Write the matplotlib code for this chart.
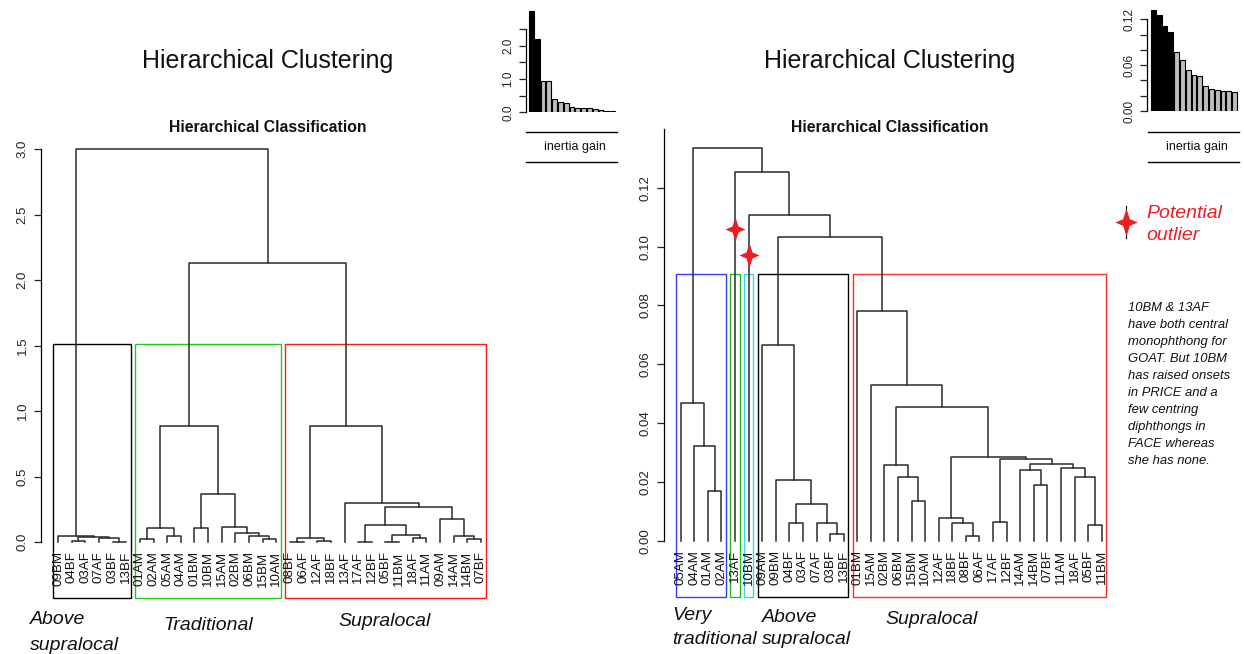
import matplotlib
matplotlib.use("Agg")
import matplotlib.pyplot as plt
from matplotlib.path import Path
from matplotlib.patches import Rectangle

plt.rcParams['font.family'] = ['Liberation Sans', 'DejaVu Sans']

W, H = 1244, 654
LINE = '#2b2b2b'

# ---------------- data: left tree (3 clusters) ----------------
labels_left = ["09BM", "04BF", "03AF", "07AF", "03BF", "13BF",
               "01AM", "02AM", "05AM", "04AM", "01BM", "10BM", "15AM", "02BM", "06BM", "15BM", "10AM",
               "08BF", "06AF", "12AF", "18BF", "13AF", "17AF", "12BF", "05BF", "11BM", "18AF", "11AM",
               "09AM", "14AM", "14BM", "07BF"]
# (left, right, height): a str is a leaf, an int is an earlier merge
merges_left = [("04BF", "03AF", 0.010), ("03BF", "13BF", 0.005), ("07AF", 1, 0.030), (0, 2, 0.040),
               ("09BM", 3, 0.050),
               ("01AM", "02AM", 0.023), ("05AM", "04AM", 0.048), (5, 6, 0.110), ("01BM", "10BM", 0.110),
               ("15BM", "10AM", 0.023), ("06BM", 9, 0.048), ("02BM", 10, 0.073), ("15AM", 11, 0.120),
               (8, 12, 0.370), (7, 13, 0.890),
               ("08BF", "06AF", 0.005), ("12AF", "18BF", 0.010), (15, 16, 0.030), ("17AF", "12BF", 0.005),
               ("05BF", "11BM", 0.005), ("18AF", "11AM", 0.030), (19, 20, 0.056), (18, 21, 0.130),
               ("14BM", "07BF", 0.023), ("14AM", 23, 0.048), ("09AM", 24, 0.180), (22, 25, 0.270),
               ("13AF", 26, 0.300), (17, 27, 0.890),
               (14, 28, 2.130), (4, 29, 3.000)]
cut_left = 1.51
sizes_left = [6, 11, 15]
colors_left = ['black', '#1ccc1c', '#ff1a1a']
gain_left = [3.05, 2.19, 0.93, 0.93, 0.39, 0.31, 0.27, 0.17, 0.14, 0.13, 0.13, 0.11, 0.08, 0.05, 0.05]

# ---------------- data: right tree (5 clusters) ----------------
labels_right = ["05AM", "04AM", "01AM", "02AM", "13AF", "10BM",
                "09AM", "09BM", "04BF", "03AF", "07AF", "03BF", "13BF",
                "01BM", "15AM", "02BM", "06BM", "15BM", "10AM", "12AF", "18BF", "08BF", "06AF",
                "17AF", "12BF", "14AM", "14BM", "07BF", "11AM", "18AF", "05BF", "11BM"]
merges_right = [("01AM", "02AM", 0.0171), ("04AM", 0, 0.0323), ("05AM", 1, 0.0469),
                ("04BF", "03AF", 0.0061), ("03BF", "13BF", 0.0025), ("07AF", 4, 0.0061), (3, 5, 0.0127),
                ("09BM", 6, 0.0208), ("09AM", 7, 0.0664),
                ("15BM", "10AM", 0.0136), ("06BM", 9, 0.0216), ("02BM", 10, 0.0258),
                ("08BF", "06AF", 0.0016), ("18BF", 12, 0.0061), ("12AF", 13, 0.0079),
                ("17AF", "12BF", 0.0066), ("14BM", "07BF", 0.0190), ("14AM", 16, 0.0240),
                ("05BF", "11BM", 0.0053), ("18AF", 18, 0.0216), ("11AM", 19, 0.0249), (17, 20, 0.0262),
                (15, 21, 0.0279), (14, 22, 0.0286), (11, 23, 0.0456), ("15AM", 24, 0.0530),
                ("01BM", 25, 0.0782), (8, 26, 0.1034), ("10BM", 27, 0.1107), ("13AF", 28, 0.1253),
                (2, 29, 0.1336)]
cut_right = 0.0907
sizes_right = [4, 1, 1, 7, 19]
colors_right = ['#3a3aff', '#22bb22', '#33dddd', 'black', '#ff2a2a']
gain_right = [0.1323, 0.1258, 0.1110, 0.1030, 0.0778, 0.0664, 0.0530, 0.0469, 0.0456,
              0.0328, 0.0284, 0.0279, 0.0266, 0.0262, 0.0245]
outliers = ["13AF", "10BM"]
outlier_heights = [0.106, 0.0971]

note_lines = ["10BM & 13AF", "have both central", "monophthong for", "GOAT. But 10BM",
              "has raised onsets", "in PRICE and a", "few centring", "diphthongs in",
              "FACE whereas", "she has none."]

fig = plt.figure(figsize=(W / 100, H / 100), dpi=100)


def px_axes(x0, y0, x1, y1):
    return fig.add_axes([x0 / W, 1 - y1 / H, (x1 - x0) / W, (y1 - y0) / H])


def r_axis(ax, lo, hi, ticks, labels, size, pad=4):
    for s in ['top', 'right', 'bottom']:
        ax.spines[s].set_visible(False)
    ax.spines['left'].set_bounds(lo, hi)
    ax.spines['left'].set_linewidth(0.9)
    ax.set_xticks([])
    ax.set_yticks(ticks)
    ax.set_yticklabels(labels)
    ax.tick_params(axis='y', length=5, width=0.9, pad=pad, labelsize=size, colors='#222222')
    for t in ax.get_yticklabels():
        t.set_rotation(90)
        t.set_va('center')
    ax.patch.set_alpha(0)


def draw_tree(ax, labels, merges):
    pos = {lab: (i, 0.0) for i, lab in enumerate(labels)}
    nodes = []
    for a, b, h in merges:
        xa, ha = pos[a] if isinstance(a, str) else nodes[a]
        xb, hb = pos[b] if isinstance(b, str) else nodes[b]
        ax.plot([xa, xa, xb, xb], [ha, h, h, hb], color=LINE, lw=1.1, clip_on=False)
        nodes.append(((xa + xb) / 2, h))
    for i, lab in enumerate(labels):
        ax.annotate(lab, (i, 0), xytext=(0, -6.5), textcoords='offset points', rotation=90,
                    ha='center', va='top', fontsize=9.6, color='#111111')


def draw_boxes(ax, sizes, colors, top, bottom):
    start = 0
    for n, c in zip(sizes, colors):
        ax.add_patch(Rectangle((start - 0.34, bottom), n - 0.32, top - bottom, fill=False,
                               edgecolor=c, lw=1.0, clip_on=False))
        start += n


def draw_gain(ax, gains, n_black):
    xs = [0.7 + 1.2 * i for i in range(len(gains))]
    cols = ['black'] * n_black + ['#bebebe'] * (len(gains) - n_black)
    ax.bar(xs, gains, width=1.0, color=cols, edgecolor='black', lw=0.8)


# left dendrogram
axL = px_axes(41, 149, 490, 542.3)
axL.set_xlim(-1.246, 31.66)
axL.set_ylim(0, 3.0)
r_axis(axL, 0, 3.0, [0, 0.5, 1, 1.5, 2, 2.5, 3], ["0.0", "0.5", "1.0", "1.5", "2.0", "2.5", "3.0"], 9.5)
draw_tree(axL, labels_left, merges_left)
draw_boxes(axL, sizes_left, colors_left, cut_left, -0.425)

# right dendrogram
axR = px_axes(664, 128.8, 1110, 541)
axR.set_xlim(-1.23, 31.61)
axR.set_ylim(0, 0.14)
r_axis(axR, 0, 0.14, [0, 0.02, 0.04, 0.06, 0.08, 0.10, 0.12],
       ["0.00", "0.02", "0.04", "0.06", "0.08", "0.10", "0.12"], 9.5)
draw_tree(axR, labels_right, merges_right)
draw_boxes(axR, sizes_right, colors_right, cut_right, -0.0191)

star = Path([(0, 1), (0.24, 0.24), (0.8, 0), (0.24, -0.24), (0, -1), (-0.24, -0.24),
             (-0.8, 0), (-0.24, 0.24), (0, 1)],
            [Path.MOVETO] + [Path.LINETO] * 7 + [Path.CLOSEPOLY])
for lab, h in zip(outliers, outlier_heights):
    axR.plot(labels_right.index(lab), h, marker=star, markersize=18, color='#ee1c25',
             markeredgewidth=0, clip_on=False, zorder=5)

# inertia gain insets
axG1 = px_axes(526, 5.6, 617, 112.3)
axG1.set_xlim(-0.42, 18.41)
axG1.set_ylim(0, 3.2)
r_axis(axG1, 0, 2.5, [0, 0.5, 1, 1.5, 2, 2.5], ["0.0", "", "1.0", "", "2.0", ""], 8.5, pad=3.5)
draw_gain(axG1, gain_left, 2)

axG2 = px_axes(1146.7, 4, 1239, 111)
axG2.set_xlim(-0.69, 18.41)
axG2.set_ylim(0, 0.14)
r_axis(axG2, 0, 0.12, [0, 0.02, 0.04, 0.06, 0.08, 0.10, 0.12],
       ["0.00", "", "", "0.06", "", "", "0.12"], 8.5, pad=3)
draw_gain(axG2, gain_right, 4)

# overlay for titles and notes (pixel coordinates)
ov = fig.add_axes([0, 0, 1, 1])
ov.set_xlim(0, W)
ov.set_ylim(H, 0)
ov.axis('off')
ov.patch.set_visible(False)

for cx in (268, 890):
    ov.text(cx, 61, "Hierarchical Clustering", ha='center', va='center', fontsize=18, color='#111111')
    ov.text(cx, 128, "Hierarchical Classification", ha='center', va='center', fontsize=11.3,
            fontweight='bold', color='#111111')

for x0, x1, cx in ((526, 617, 575), (1148, 1239, 1197)):
    ov.plot([x0, x1], [132, 132], color='black', lw=1.0)
    ov.plot([x0, x1], [162, 162], color='black', lw=1.0)
    ov.text(cx, 147, "inertia gain", ha='center', va='center', fontsize=9, color='#111111')

group_names = [(30, 620, "Above"), (30, 645, "supralocal"), (163, 625, "Traditional"),
               (338, 621, "Supralocal"), (672, 616, "Very"), (672, 640, "traditional"),
               (762, 617, "Above"), (762, 640, "supralocal"), (885, 620, "Supralocal")]
for x, y, s in group_names:
    ov.text(x, y, s, ha='left', va='center', fontsize=14, style='italic', color='#111111')

ov.plot([1126, 1126], [206, 238], color='black', lw=0.8)
ov.plot(1126, 221.5, marker=star, markersize=20, color='#ee1c25', markeredgewidth=0)
ov.text(1146, 213, "Potential", ha='left', va='center', fontsize=14, style='italic', color='#ee1c25')
ov.text(1146, 236, "outlier", ha='left', va='center', fontsize=14, style='italic', color='#ee1c25')

for i, s in enumerate(note_lines):
    ov.text(1128, 308 + i * 17, s, ha='left', va='center', fontsize=9.4, style='italic', color='#111111')

fig.savefig('out.png', dpi=100)
